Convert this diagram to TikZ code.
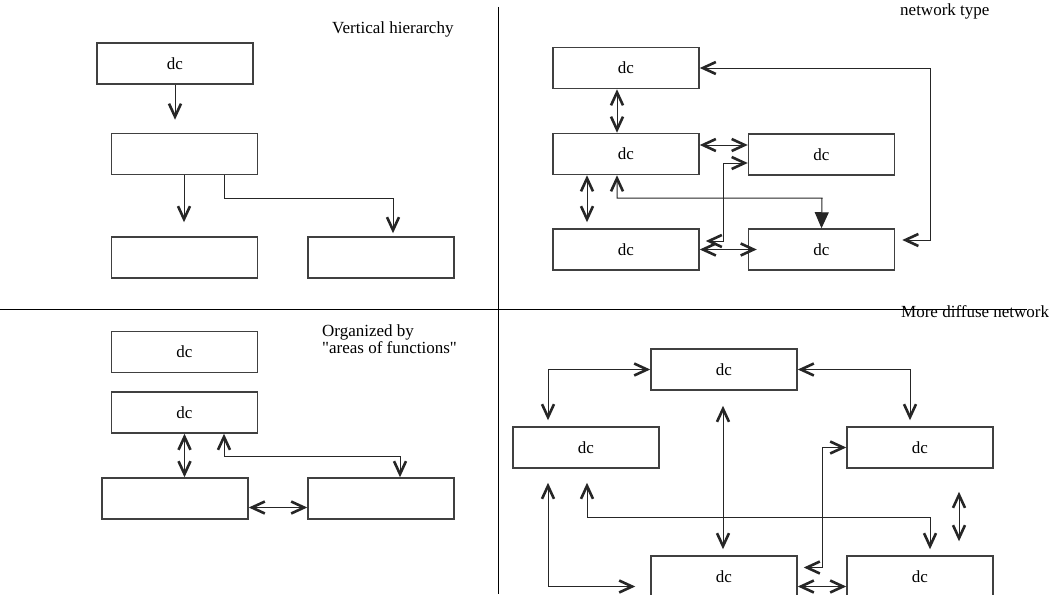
\documentclass[tikz,border=0pt]{standalone}
\usepackage{fontspec}
\setmainfont{Liberation Serif}[Ligatures=TeXOff]
\usetikzlibrary{arrows.meta,calc}
\tikzset{
  barb/.tip={Straight Barb[length=13pt,width=12pt,line width=2.6pt]},
  tri/.tip={Triangle[length=16pt,width=14pt]},
  box/.style={draw=black!75, line width=1.5pt, minimum width=146pt,
    minimum height=41pt, inner sep=0pt, font=\fontsize{17}{19}\selectfont},
  label/.style={inner sep=0pt, font=\fontsize{17}{19}\selectfont},
  conn/.style={draw=black!85, line width=1pt},
  one/.style={conn, -{barb}},
  two/.style={conn, {barb}-{barb}},
  sep/.style={draw=black, line width=1pt},
}
\begin{document}
\begin{tikzpicture}[x=1pt, y=-1pt]
\useasboundingbox (0,0) rectangle (1056,594);
\clip (0,0) rectangle (1056,594);

% quadrant separators
\coordinate (hl) at (0,309);
\coordinate (hr) at (1027,309);
\coordinate (vt) at (498.5,7);
\coordinate (vb) at (498.5,594);
\draw[sep] (hl) -- (hr);
\draw[sep] (vt) -- (vb);

% captions
\node[label, anchor=base west] (capA) at (332,34) {Vertical hierarchy};
\node[label, anchor=base west] (capB) at (900,16) {network type};
\node[label, anchor=base west] (capC1) at (322,336.7) {Organized by};
\node[label, anchor=base west] (capC2) at (322,353) {"areas of functions"};
\node[label, anchor=base west] (capD) at (901,317.7) {More diffuse network};

% --- vertical hierarchy
\node[box, minimum width=156pt] (tl1) at (175,63.5) {dc};
\node[box] (tl2) at (184.5,154) {};
\node[box] (tl3) at (184.5,257.5) {};
\node[box] (tl4) at (381,257.5) {};

\draw[one, shorten >=13pt] (tl1.south) -- (tl1.south |- tl2.north);
\draw[one, shorten >=14pt] ([xshift=-0.5pt]tl2.south) -- ([xshift=-0.5pt]tl3.north);
\draw[one, shorten >=3pt] ([xshift=39.5pt]tl2.south) |- (393,198) -- ([xshift=12pt]tl4.north);

% --- network type
\node[box] (tr1) at (626,68) {dc};
\node[box] (tr2) at (626,154) {dc};
\node[box] (tr3) at (821.5,154.5) {dc};
\node[box] (tr4) at (626,249.5) {dc};
\node[box] (tr5) at (821.5,249.5) {dc};

\draw[two] ([xshift=-9pt]tr1.south) -- ([xshift=-9pt]tr2.north);
\draw[two] ([yshift=9pt]tr2.east) -- ([yshift=9.5pt]tr3.west);
\draw[two, shorten <=6pt] ([yshift=8.5pt]tr4.east) -| (723,163) -- ([yshift=-8.5pt]tr3.west);
\draw[two, shorten >=-9pt] (tr4.east) -- (tr5.west);
\draw[two, shorten >=6pt] ([xshift=-39pt]tr2.south) -- ([xshift=-39pt]tr4.north);
\draw[conn, {barb}-{tri}] ([xshift=-9pt]tr2.south) |- (822,198) -- (tr5.north);
\draw[two, shorten >=7pt] (tr1.east) -| (930,240) -- ([yshift=9.5pt]tr5.east);

% --- organized by areas of functions
\node[box] (bl1) at (184.5,352) {dc};
\node[box] (bl2) at (184.5,412.5) {dc};
\node[box] (bl3) at (175,498.5) {};
\node[box] (bl4) at (381,498.5) {};

\draw[two] (bl2.south) -- (bl2.south |- bl3.north);
\draw[two] ([xshift=39.5pt]bl2.south) |- (400,456) -- ([xshift=19pt]bl4.north);
\draw[two] ([yshift=-9pt]bl3.east) -- ([yshift=-9pt]bl4.west);

% --- more diffuse network
\node[box] (br1) at (724,369.5) {dc};
\node[box] (br2) at (586,447.5) {dc};
\node[box] (br3) at (920,447.5) {dc};
\node[box] (br4) at (724,576.5) {dc};
\node[box] (br5) at (920,576.5) {dc};

\draw[two, shorten <=6pt] ([xshift=-38pt]br2.north) |- (br1.west);
\draw[two, shorten >=6pt] (br1.east) -| ([xshift=-10pt]br3.north);
\draw[two, shorten <=15pt, shorten >=6pt] ([xshift=-1pt]br1.south) -- ([xshift=-1pt]br4.north);
\draw[two, shorten <=14pt, shorten >=15pt] ([xshift=-38pt]br2.south) |- ([yshift=-10pt]br4.west);
\draw[two, shorten <=14pt, shorten >=6pt] ([xshift=1pt]br2.south) |- (930,517) -- ([xshift=10pt]br5.north);
\draw[two, shorten <=6pt] ([yshift=9pt]br4.east) -| (822,447.5) -- (br3.west);
\draw[two] ([yshift=-10pt]br4.east) -- ([yshift=-10pt]br5.west);
\draw[two, shorten <=23pt, shorten >=14pt] ([xshift=39pt]br3.south) -- ([xshift=39pt]br5.north);
\end{tikzpicture}
\end{document}
